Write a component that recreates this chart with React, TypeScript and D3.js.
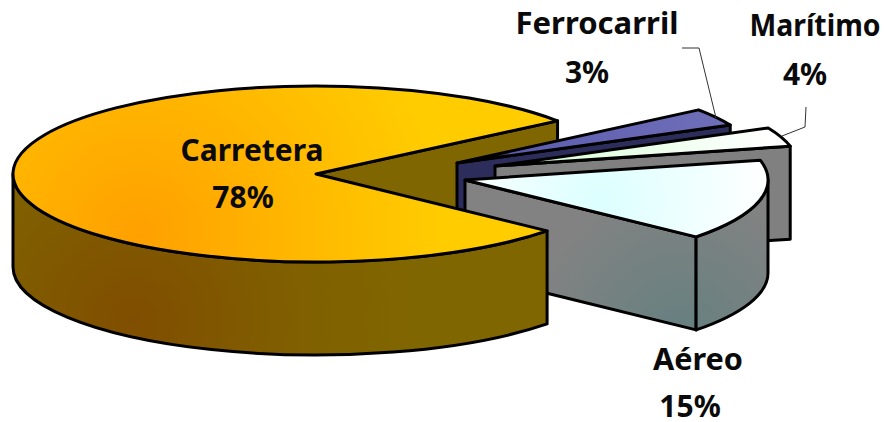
import React from 'react';
import * as d3 from 'd3';

const categories = ['Carretera', 'Ferrocarril', 'Marítimo', 'Aéreo'];
const shares = [78.49, 3.2, 3.5, 14.81];

// position of each exploded slice's apex on the page
const apexX = [316, 457, 495, 465];
const apexY = [174, 163, 166, 180];
const topFills = ['url(#carrTop)', 'url(#ferrTop)', 'url(#mariTop)', 'url(#aereoTop)'];
const wallFills = ['url(#carrWall)', '#2d2d5c', '#808080', 'url(#aereoWall)'];

const labelX = [252, 597, 815, 698];
const labelY = [161, 34, 36, 370];
const labelW = [143, 163, 131, 90];
const pctX = [243, 587, 805, 690];
const pctY = [208, 83, 85, 417];

const RX = 303;
const RY = 88;
const DEPTH = 93;
const START = (130.3 * Math.PI) / 180;
const font = '"Noto Sans", "DejaVu Sans", sans-serif';

const slices = d3.pie<number>().sort(null).startAngle(START).endAngle(START + 2 * Math.PI)(shares);

const pt = (i: number, a: number, dy = 0): [number, number] => [
  apexX[i] + RX * Math.sin(a),
  apexY[i] - RY * Math.cos(a) + dy,
];

const arcTo = (i: number, a0: number, a1: number, dy = 0) => {
  const [x, y] = pt(i, a1, dy);
  const large = Math.abs(a1 - a0) > Math.PI ? 1 : 0;
  const sweep = a1 > a0 ? 1 : 0;
  return `A${RX},${RY} 0 ${large} ${sweep} ${x},${y}`;
};

const topFace = (i: number) => {
  const s = slices[i];
  const [x0, y0] = pt(i, s.startAngle);
  return `M${apexX[i]},${apexY[i]} L${x0},${y0} ${arcTo(i, s.startAngle, s.endAngle)} Z`;
};

// flat wall of a cut edge
const cutWall = (i: number, a: number) => {
  const [x, y] = pt(i, a);
  return `M${apexX[i]},${apexY[i]} L${x},${y} L${x},${y + DEPTH} L${apexX[i]},${apexY[i] + DEPTH} Z`;
};

// curved outer wall, only the part facing the viewer
const outerWall = (i: number, a0: number, a1: number) => {
  const [x0, y0] = pt(i, a0);
  const [x1, y1] = pt(i, a1, DEPTH);
  return `M${x0},${y0} ${arcTo(i, a0, a1)} L${x1},${y1} ${arcTo(i, a1, a0, DEPTH)} Z`;
};

const Stroke = { stroke: '#000', strokeWidth: 3, strokeLinejoin: 'round' as const };

export default function App() {
  const [carr, ferr, mari, aereo] = slices;
  const pct = d3.format('.0f');
  return (
    <svg width={884} height={422} style={{ position: 'absolute', left: 0, top: 0 }}>
      <defs>
        <radialGradient id="carrTop" gradientUnits="userSpaceOnUse" cx={140} cy={235} r={300}>
          <stop offset="0" stopColor="#ffa000" />
          <stop offset="0.6" stopColor="#ffbb00" />
          <stop offset="1" stopColor="#ffcc00" />
        </radialGradient>
        <radialGradient id="carrWall" gradientUnits="userSpaceOnUse" cx={135} cy={320} r={280}>
          <stop offset="0" stopColor="#804e00" />
          <stop offset="0.6" stopColor="#806000" />
          <stop offset="1" stopColor="#806600" />
        </radialGradient>
        <linearGradient id="ferrTop" gradientUnits="userSpaceOnUse" x1={500} y1={150} x2={730} y2={120}>
          <stop offset="0" stopColor="#5c5cb0" />
          <stop offset="1" stopColor="#6f6fb8" />
        </linearGradient>
        <linearGradient id="mariTop" gradientUnits="userSpaceOnUse" x1={560} y1={155} x2={770} y2={135}>
          <stop offset="0" stopColor="#dcffdc" />
          <stop offset="1" stopColor="#ffffff" />
        </linearGradient>
        <radialGradient id="aereoTop" gradientUnits="userSpaceOnUse" cx={600} cy={200} r={170}>
          <stop offset="0" stopColor="#dcffff" />
          <stop offset="1" stopColor="#ffffff" />
        </radialGradient>
        <radialGradient id="aereoWall" gradientUnits="userSpaceOnUse" cx={680} cy={335} r={150}>
          <stop offset="0" stopColor="#668080" />
          <stop offset="1" stopColor="#828282" />
        </radialGradient>
      </defs>

      <path d={cutWall(0, carr.endAngle)} fill={wallFills[0]} {...Stroke} />

      <path d={cutWall(1, ferr.endAngle)} fill={wallFills[1]} {...Stroke} />
      <path d={topFace(1)} fill={topFills[1]} {...Stroke} />

      <path d={cutWall(2, mari.endAngle)} fill={wallFills[2]} {...Stroke} />
      <path d={topFace(2)} fill={topFills[2]} {...Stroke} />

      <path d={cutWall(3, aereo.endAngle)} fill={wallFills[3]} {...Stroke} />
      <path d={outerWall(3, Math.PI / 2 + 2 * Math.PI, aereo.endAngle)} fill={wallFills[3]} {...Stroke} />
      <path d={topFace(3)} fill={topFills[3]} {...Stroke} />

      <path d={outerWall(0, carr.startAngle, (3 * Math.PI) / 2)} fill={wallFills[0]} {...Stroke} />
      <path d={topFace(0)} fill={topFills[0]} {...Stroke} />

      <path d="M682,48 L699,48 L716,118" fill="none" stroke="#333" strokeWidth={1} />
      <path d="M806,107 L805,127 L782,136" fill="none" stroke="#333" strokeWidth={1} />

      {categories.map((c, i) => (
        <g key={c} fontFamily={font} fontWeight={700} fontSize={30} fill="#0a0a0a" textAnchor="middle">
          <text x={labelX[i]} y={labelY[i]} textLength={labelW[i]} lengthAdjust="spacingAndGlyphs">{c}</text>
          <text x={pctX[i]} y={pctY[i]}>{pct(shares[i])}%</text>
        </g>
      ))}
    </svg>
  );
}
